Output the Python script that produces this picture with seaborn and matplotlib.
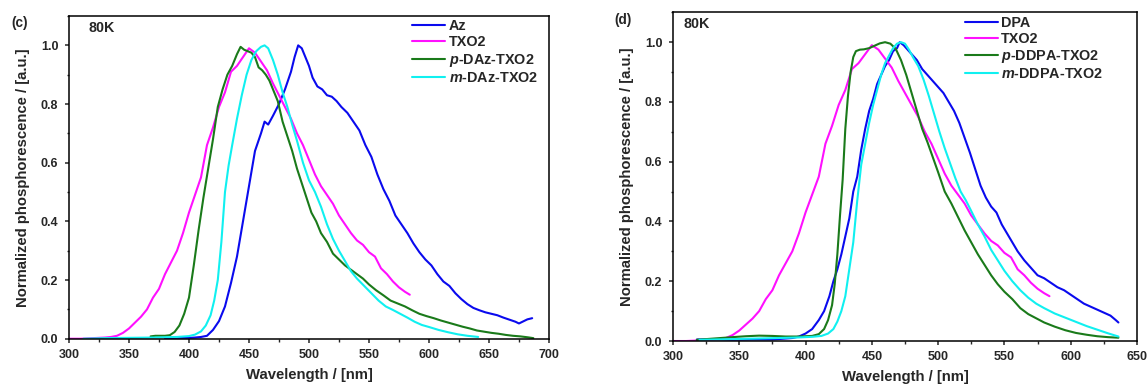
import matplotlib
matplotlib.use("Agg")
import matplotlib.pyplot as plt
from matplotlib.ticker import MultipleLocator, FormatStrFormatter
import seaborn as sns
import pandas as pd

# ---------------- (c) Az series, 80 K phosphorescence ----------------
az_wl = [380, 390, 400, 405, 410, 415, 420, 425, 430, 435, 440, 445, 450, 455,
         460, 463, 466, 470, 475, 480, 485, 488, 491, 494, 497, 500, 503, 507,
         511, 515, 519, 523, 527, 532, 537, 542, 547, 552, 557, 562, 567, 572,
         577, 582, 587, 592, 597, 602, 607, 612, 617, 622, 627, 632, 637, 642,
         647, 652, 657, 662, 667, 672, 675, 678, 682, 686]
az_int = [0.002, 0.003, 0.003, 0.004, 0.006, 0.010, 0.030, 0.060, 0.110, 0.190,
          0.280, 0.400, 0.520, 0.640, 0.700, 0.740, 0.730, 0.760, 0.800, 0.850,
          0.910, 0.960, 1.000, 0.990, 0.960, 0.930, 0.890, 0.860, 0.850, 0.830,
          0.825, 0.810, 0.790, 0.770, 0.740, 0.710, 0.660, 0.620, 0.560, 0.510,
          0.470, 0.420, 0.390, 0.360, 0.325, 0.295, 0.270, 0.250, 0.220, 0.195,
          0.180, 0.155, 0.135, 0.118, 0.105, 0.097, 0.090, 0.085, 0.080, 0.072,
          0.065, 0.058, 0.052, 0.058, 0.066, 0.070]

# TXO2 acceptor (same spectrum in both panels)
txo2_wl = [300, 310, 320, 330, 335, 340, 345, 350, 355, 360, 365, 370, 375, 380,
           385, 390, 395, 400, 405, 410, 415, 420, 425, 430, 435, 440, 445, 450,
           455, 460, 465, 470, 475, 480, 485, 490, 495, 500, 505, 510, 515, 520,
           525, 530, 535, 540, 545, 550, 555, 560, 565, 570, 575, 580, 584]
txo2_int = [0.000, 0.000, 0.002, 0.004, 0.006, 0.010, 0.020, 0.035, 0.055, 0.075,
            0.100, 0.140, 0.170, 0.220, 0.260, 0.300, 0.360, 0.430, 0.490, 0.550,
            0.660, 0.720, 0.790, 0.840, 0.910, 0.930, 0.960, 0.990, 0.975, 0.945,
            0.915, 0.870, 0.830, 0.790, 0.750, 0.700, 0.660, 0.610, 0.560, 0.520,
            0.490, 0.460, 0.420, 0.390, 0.360, 0.335, 0.320, 0.295, 0.280, 0.240,
            0.220, 0.195, 0.175, 0.160, 0.150]

pdaz_wl = [368, 372, 376, 380, 384, 388, 392, 396, 400, 404, 408, 412, 416, 420,
           424, 428, 432, 436, 440, 443, 446, 449, 452, 455, 458, 461, 464, 467,
           470, 474, 478, 482, 486, 490, 494, 498, 502, 506, 510, 515, 520, 525,
           530, 535, 540, 545, 550, 556, 562, 568, 574, 580, 586, 592, 598, 604,
           610, 616, 622, 628, 634, 640, 646, 652, 658, 664, 670, 676, 682, 687]
pdaz_int = [0.008, 0.010, 0.010, 0.010, 0.012, 0.023, 0.045, 0.085, 0.140, 0.250,
            0.370, 0.480, 0.580, 0.680, 0.790, 0.850, 0.900, 0.930, 0.970, 0.995,
            0.985, 0.980, 0.975, 0.960, 0.925, 0.915, 0.900, 0.880, 0.850, 0.810,
            0.740, 0.690, 0.640, 0.580, 0.530, 0.480, 0.430, 0.400, 0.360, 0.330,
            0.290, 0.270, 0.250, 0.235, 0.220, 0.205, 0.185, 0.165, 0.148, 0.130,
            0.120, 0.110, 0.097, 0.085, 0.077, 0.070, 0.062, 0.055, 0.048, 0.041,
            0.035, 0.028, 0.024, 0.020, 0.017, 0.013, 0.010, 0.008, 0.005, 0.002]

mdaz_wl = [312, 330, 350, 370, 390, 400, 405, 410, 414, 418, 421, 424, 427, 430,
           433, 436, 440, 444, 448, 452, 456, 460, 463, 466, 470, 474, 478, 482,
           486, 490, 495, 500, 505, 510, 515, 520, 525, 530, 535, 540, 546, 552,
           558, 564, 570, 576, 582, 588, 594, 600, 608, 616, 624, 632, 641]
mdaz_int = [0.000, 0.002, 0.003, 0.004, 0.006, 0.009, 0.014, 0.025, 0.045, 0.080,
            0.130, 0.200, 0.330, 0.500, 0.590, 0.660, 0.750, 0.830, 0.900, 0.950,
            0.980, 0.995, 1.000, 0.990, 0.950, 0.900, 0.840, 0.790, 0.730, 0.675,
            0.600, 0.540, 0.500, 0.450, 0.390, 0.340, 0.300, 0.265, 0.230, 0.205,
            0.180, 0.155, 0.130, 0.110, 0.098, 0.085, 0.072, 0.058, 0.047, 0.040,
            0.030, 0.022, 0.015, 0.010, 0.006]

# ---------------- (d) DPA series, 80 K phosphorescence ----------------
dpa_wl = [318, 330, 345, 360, 375, 390, 395, 400, 405, 410, 414, 418, 421, 424,
          427, 430, 433, 436, 439, 442, 445, 448, 451, 454, 457, 460, 463, 466,
          469, 471, 474, 477, 480, 484, 488, 492, 496, 500, 504, 508, 512, 516,
          520, 524, 528, 532, 536, 540, 544, 548, 552, 556, 560, 565, 570, 575,
          580, 585, 590, 595, 600, 605, 610, 615, 620, 625, 630, 634, 636]
dpa_int = [0.005, 0.006, 0.004, 0.005, 0.005, 0.010, 0.015, 0.025, 0.040, 0.070,
           0.100, 0.150, 0.200, 0.240, 0.290, 0.350, 0.410, 0.500, 0.550, 0.640,
           0.710, 0.770, 0.810, 0.860, 0.890, 0.920, 0.940, 0.970, 0.980, 1.000,
           0.990, 0.975, 0.960, 0.940, 0.910, 0.890, 0.870, 0.850, 0.830, 0.800,
           0.770, 0.730, 0.680, 0.630, 0.575, 0.520, 0.480, 0.450, 0.430, 0.390,
           0.360, 0.330, 0.300, 0.270, 0.245, 0.220, 0.210, 0.195, 0.180, 0.170,
           0.155, 0.140, 0.125, 0.115, 0.105, 0.095, 0.085, 0.070, 0.062]

pddpa_wl = [318, 330, 345, 355, 365, 375, 385, 395, 405, 410, 414, 417, 420, 422,
            424, 426, 428, 430, 432, 434, 436, 438, 441, 444, 448, 452, 456, 460,
            464, 468, 472, 476, 480, 484, 488, 492, 496, 500, 505, 510, 515, 520,
            525, 530, 535, 540, 545, 550, 556, 562, 568, 574, 580, 588, 596, 604,
            612, 620, 628, 636]
pddpa_int = [0.004, 0.008, 0.013, 0.016, 0.018, 0.017, 0.015, 0.015, 0.017, 0.023,
             0.040, 0.070, 0.120, 0.190, 0.290, 0.420, 0.540, 0.710, 0.820, 0.900,
             0.950, 0.970, 0.975, 0.976, 0.980, 0.988, 0.996, 1.000, 0.995, 0.978,
             0.940, 0.890, 0.830, 0.770, 0.710, 0.665, 0.615, 0.565, 0.500, 0.460,
             0.415, 0.370, 0.330, 0.290, 0.255, 0.220, 0.190, 0.165, 0.140, 0.110,
             0.090, 0.076, 0.062, 0.048, 0.036, 0.027, 0.021, 0.016, 0.013, 0.011]

mddpa_wl = [320, 340, 360, 380, 395, 405, 412, 417, 421, 424, 427, 430, 433, 436,
            439, 442, 445, 448, 451, 454, 457, 460, 463, 466, 469, 472, 475, 478,
            481, 485, 489, 493, 497, 501, 505, 509, 513, 517, 521, 525, 530, 535,
            540, 545, 550, 556, 562, 568, 574, 580, 588, 596, 604, 612, 620, 628,
            636]
mddpa_int = [0.004, 0.006, 0.008, 0.010, 0.012, 0.014, 0.017, 0.025, 0.040, 0.065,
             0.100, 0.150, 0.240, 0.330, 0.470, 0.590, 0.660, 0.730, 0.790, 0.840,
             0.890, 0.930, 0.955, 0.980, 0.995, 1.000, 0.995, 0.975, 0.950, 0.920,
             0.875, 0.820, 0.760, 0.700, 0.645, 0.595, 0.545, 0.500, 0.470, 0.435,
             0.390, 0.350, 0.305, 0.270, 0.235, 0.200, 0.170, 0.145, 0.125, 0.110,
             0.092, 0.078, 0.064, 0.050, 0.038, 0.026, 0.015]

panel_c = [("Az", az_wl, az_int, "#0a0aee"),
           ("TXO2", txo2_wl, txo2_int, "#ff10ff"),
           ("$p$-DAz-TXO2", pdaz_wl, pdaz_int, "#1a7a1a"),
           ("$m$-DAz-TXO2", mdaz_wl, mdaz_int, "#10f0f0")]
panel_d = [("DPA", dpa_wl, dpa_int, "#0a0aee"),
           ("TXO2", txo2_wl, txo2_int, "#ff10ff"),
           ("$p$-DDPA-TXO2", pddpa_wl, pddpa_int, "#1a7a1a"),
           ("$m$-DDPA-TXO2", mddpa_wl, mddpa_int, "#10f0f0")]

sns.set_style("ticks")
plt.rcParams["font.family"] = ["Liberation Sans", "DejaVu Sans"]
plt.rcParams["font.weight"] = "bold"
plt.rcParams["mathtext.fontset"] = "custom"
plt.rcParams["mathtext.it"] = "Liberation Sans:italic:bold"
plt.rcParams["mathtext.rm"] = "Liberation Sans:bold"
plt.rcParams["axes.linewidth"] = 1.1

fig = plt.figure(figsize=(11.48, 3.88), dpi=100)
ax_c = fig.add_axes([0.0601, 0.127, 0.4181, 0.8317])
ax_d = fig.add_axes([0.5862, 0.1211, 0.4042, 0.8472])


def draw_panel(ax, series, xmax, tag, tag_xy, tag80_x, legend_anchor):
    for label, wl, inten, color in series:
        df = pd.DataFrame({"wavelength": wl, "intensity": inten})
        sns.lineplot(data=df, x="wavelength", y="intensity", ax=ax,
                     color=color, lw=1.5, label=label, sort=False,
                     estimator=None)
    ax.set_xlim(300, xmax)
    ax.set_ylim(0, 1.1)
    ax.xaxis.set_major_locator(MultipleLocator(50))
    ax.xaxis.set_minor_locator(MultipleLocator(25))
    ax.yaxis.set_major_locator(MultipleLocator(0.2))
    ax.yaxis.set_minor_locator(MultipleLocator(0.1))
    ax.yaxis.set_major_formatter(FormatStrFormatter("%.1f"))
    ax.tick_params(which="major", direction="out", length=3.2, width=1.1,
                   labelsize=9)
    ax.tick_params(axis="x", which="major", pad=4)
    ax.tick_params(axis="y", which="major", pad=4.5)
    ax.tick_params(which="minor", direction="out", length=1.8, width=1.0)
    for lbl in ax.get_xticklabels() + ax.get_yticklabels():
        lbl.set_fontweight("bold")
    for sp in ax.spines.values():
        sp.set_visible(True)
        sp.set_linewidth(1.1)
        sp.set_color("black")
    ax.set_xlabel("Wavelength / [nm]", fontsize=10.7, fontweight="bold",
                  labelpad=5)
    ax.set_ylabel("Normalized phosphorescence / [a.u.]", fontsize=10.7,
                  fontweight="bold", labelpad=8)
    ax.text(tag80_x, 0.985, "80K", transform=ax.transAxes, fontsize=10.3,
            fontweight="bold", va="top", ha="left")
    fig.text(tag_xy[0], tag_xy[1], tag, fontsize=9.8, fontweight="bold",
             va="center", ha="left")
    leg = ax.legend(loc="upper left", bbox_to_anchor=legend_anchor,
                    frameon=False, fontsize=10.4, handlelength=2.3,
                    handletextpad=0.22, labelspacing=0.15, borderaxespad=0,
                    borderpad=0)
    for t in leg.get_texts():
        t.set_fontweight("bold")


draw_panel(ax_c, panel_c, 700, "(c)", (0.010, 0.940), 0.040, (0.715, 0.99))
draw_panel(ax_d, panel_d, 650, "(d)", (0.535, 0.948), 0.022, (0.629, 0.99))

fig.savefig("out.png", dpi=100)
